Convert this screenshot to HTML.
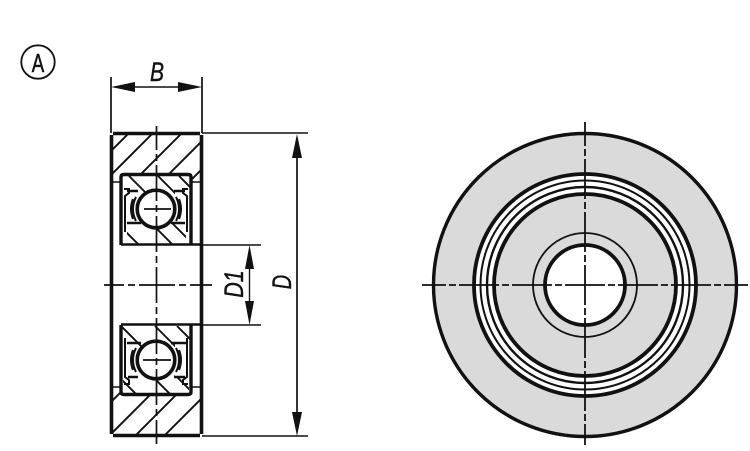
<!DOCTYPE html>
<html><head><meta charset="utf-8"><style>html,body{margin:0;padding:0;background:#fff}svg{display:block}</style></head><body>
<svg width="750" height="451" viewBox="0 0 750 451" xmlns="http://www.w3.org/2000/svg" fill="none" stroke="#111">
<defs>
<clipPath id="ot"><path d="M113 135H200V182H192V174H120V182H113Z"/></clipPath>
<clipPath id="ob"><path d="M113 434H200V387H192V395H120V387H113Z"/></clipPath>
<clipPath id="r1"><path d="M122 176H190V191H175V205H137V191H122Z"/></clipPath>
<clipPath id="r2"><path d="M127 223H137V212H175V223H186V244H127Z"/></clipPath>
<clipPath id="r3"><path d="M122 326H190V343H175V355H137V343H122Z"/></clipPath>
<clipPath id="r4"><path d="M123 377H137V365H175V377H189V394H123Z"/></clipPath>
</defs>

<!-- A marker -->
<circle cx="38" cy="62" r="16.7" stroke-width="1.8"/>
<text transform="translate(38 72) scale(.72 1)" text-anchor="middle" font-family="Liberation Sans, sans-serif" font-size="26" fill="#111" stroke="#111" stroke-width=".5">A</text>

<!-- B dimension -->
<path d="M111 77V133M202 77V133" stroke-width="1.7"/>
<path d="M135 87H178" stroke-width="1.4"/>
<path d="M111 87L135 82V92ZM202 87L178 82V92Z" fill="#111" stroke="none"/>
<text transform="translate(157 81) scale(.78 1)" text-anchor="middle" font-family="Liberation Sans, sans-serif" font-style="italic" font-size="27" fill="#111" stroke="#111" stroke-width=".4">B</text>

<!-- hatching -->
<g stroke-width="1.9">
<g clip-path="url(#ot)"><path d="M129 133L72 190M153 133L96 190M182 133L125 190M210 133L153 190M238 133L181 190"/></g>
<g clip-path="url(#ob)"><path d="M133 380L77 436M165 380L109 436M191 380L135 436M220 380L164 436"/></g>
<g clip-path="url(#r1)"><path d="M129 176L153 200M158 176L182 200M179 176L203 200"/></g>
<g clip-path="url(#r2)"><path d="M118 224L139 245M152 224L173 245M173 224L194 245"/></g>
<g clip-path="url(#r3)"><path d="M121 326L145 350M155 326L179 350M177 326L201 350"/></g>
<g clip-path="url(#r4)"><path d="M117 375L137 395M151 375L171 395M175 375L195 395"/></g>
</g>

<!-- outer body -->
<path d="M113 133.500H200M111.500 135V434M201.500 135V434M113 435.500H200" stroke-width="3.6"/>
<path d="M111 182H120M192 182H202M111 387H120M192 387H202" stroke-width="1.6"/>
<path d="M202 133H308M202 436H308M202 245H261M202 325H261" stroke-width="1.6"/>

<!-- bearing outline -->
<path d="M121 245V177Q121 174.500 124 174.500H188Q191 174.500 191 177V245" stroke-width="3.4"/>
<path d="M121 325V392Q121 394.500 124 394.500H188Q191 394.500 191 392V325" stroke-width="3.4"/>
<path d="M121 244.500H202M121 324.500H202" stroke-width="2.6"/>

<!-- seals -->
<g stroke-width="2">
<path d="M125 232V196L129 193V189H124M187 232V196L183 193V189H188"/>
<path d="M125 338V377L129 380V384H124M187 338V377L183 380V384H188"/>
<path d="M127 191H138M174 191H185M127 223H141M171 223H185" stroke-width="2.6"/>
<path d="M127 343H141M171 343H187M128 377H138M174 377H185" stroke-width="2.6"/>
<path d="M136 197Q130 209 136 221M133 199Q129 209 133 219M176 197Q182 209 176 221M179 199Q183 209 179 219"/>
<path d="M136 348Q130 360 136 372M133 350Q129 360 133 370M176 348Q182 360 176 372M179 350Q183 360 179 370"/>
</g>

<!-- balls -->
<circle cx="156" cy="209" r="18.800" fill="#fff" stroke-width="3.6"/>
<circle cx="156" cy="360" r="18.800" fill="#fff" stroke-width="3.6"/>
<path d="M144 209H171M143 360H171" stroke-width="1.7"/>

<!-- center lines left -->
<path d="M156.500 126V444" stroke-width="1.7" stroke-dasharray="36 4 7 4" stroke-dashoffset="12"/>
<path d="M104 285H212" stroke-width="1.7" stroke-dasharray="36 4 7 4" stroke-dashoffset="16"/>

<!-- D1 dimension -->
<path d="M249.500 268V302" stroke-width="1.4"/>
<path d="M249.500 245L245 269H254ZM249.500 325L245 301H254Z" fill="#111" stroke="none"/>
<text transform="translate(243 284) rotate(-90) scale(.8 1)" text-anchor="middle" font-family="Liberation Sans, sans-serif" font-style="italic" font-size="27" fill="#111" stroke="#111" stroke-width=".4">D1</text>

<!-- D dimension -->
<path d="M297 157V412" stroke-width="1.7"/>
<path d="M297 134L292 158H302ZM297 436L292 412H302Z" fill="#111" stroke="none"/>
<text transform="translate(291 282) rotate(-90) scale(.74 1)" text-anchor="middle" font-family="Liberation Sans, sans-serif" font-style="italic" font-size="27" fill="#111" stroke="#111" stroke-width=".4">D</text>

<!-- right view -->
<circle cx="585" cy="285" r="151.500" fill="#dadada" stroke-width="3.4"/>
<circle cx="585" cy="285" r="111" fill="#fff" stroke-width="3.8"/>
<circle cx="585" cy="285" r="104.500" stroke-width="2"/>
<circle cx="585" cy="285" r="98" stroke-width="2.4"/>
<circle cx="585" cy="285" r="91" fill="#dadada" stroke-width="3.8"/>
<circle cx="585" cy="285" r="52" stroke-width="1.8"/>
<circle cx="585" cy="285" r="40" fill="#fff" stroke-width="3.8"/>
<path d="M585 122V445" stroke-width="1.8" stroke-dasharray="40 3 7 3" stroke-dashoffset="16"/>
<path d="M422 285H748" stroke-width="1.8" stroke-dasharray="40 3 7 3" stroke-dashoffset="16"/>
</svg>
</body></html>
